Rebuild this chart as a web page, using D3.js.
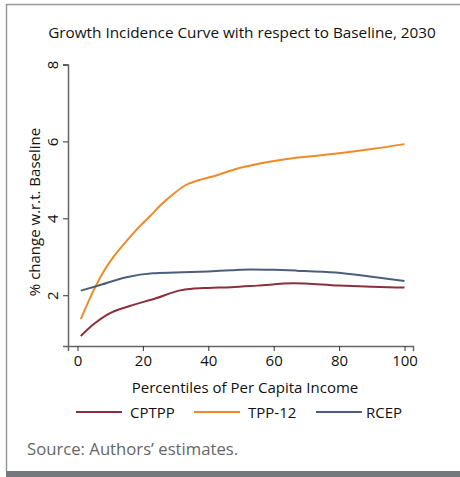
<!DOCTYPE html>
<html><head><meta charset="utf-8">
<script src="https://cdn.jsdelivr.net/npm/d3@7"></script>
<style>body{margin:0;background:#fff}svg{display:block}text{font-family:"Open Sans","Noto Sans",sans-serif}</style>
</head><body>
<script>
const title = "Growth Incidence Curve with respect to Baseline, 2030";
const xTitle = "Percentiles of Per Capita Income";
const yTitle = "% change w.r.t. Baseline";
const source = "Source: Authors’ estimates.";
const xTicks = [0,20,40,60,80,100];
const yTicks = [2,4,6,8];
const seriesNames = ["CPTPP","TPP-12","RCEP"];
const seriesColors = ["#8c2f3d","#ef8a26","#4b5f7d"];
const cptppX = [1,5,9,16,24,31,35,40,47,55,66,80,90,100];
const cptppY = [0.94,1.25,1.49,1.72,1.92,2.12,2.17,2.19,2.21,2.25,2.31,2.25,2.22,2.20];
const tppX = [1,5,8,11,14,18,22,26,30,33,37,41,48,55,63,70,78,90,100];
const tppY = [1.38,2.14,2.62,3.00,3.31,3.70,4.04,4.39,4.68,4.86,4.99,5.08,5.27,5.41,5.53,5.60,5.67,5.80,5.93];
const rcepX = [1,6,15,23,30,40,47,53,60,67,79,90,100];
const rcepY = [2.12,2.24,2.47,2.57,2.59,2.62,2.65,2.67,2.66,2.64,2.59,2.48,2.37];

const W=460,H=477;
const svg=d3.select("body").append("svg").attr("width",W).attr("height",H);
// frame
svg.append("line").attr("x1",6.5).attr("x2",W).attr("y1",4.5).attr("y2",4.5).attr("stroke","#999").attr("stroke-width",1.5);
svg.append("line").attr("x1",6.5).attr("x2",6.5).attr("y1",4).attr("y2",471).attr("stroke","#999").attr("stroke-width",1.5);
svg.append("rect").attr("x",6).attr("y",471).attr("width",W-6).attr("height",6).attr("fill","#77787b");

const x=d3.scaleLinear().domain([-2.9,102.6]).range([68,413]);
const y=d3.scaleLinear().domain([0.68,8]).range([346,64.5]);

svg.append("text").attr("x",242).attr("y",38).attr("text-anchor","middle").attr("font-size",15.3).attr("fill","#111").text(title);

// axes
const gx=svg.append("g").attr("transform","translate(0,346)").call(d3.axisBottom(x).tickValues(xTicks).tickSize(5).tickPadding(4));
gx.select(".domain").attr("stroke","#666").attr("stroke-width",1.5);
gx.selectAll(".tick line").attr("stroke","#333");
gx.selectAll(".tick text").attr("font-size",15).attr("fill","#111").attr("font-family","'Open Sans',sans-serif");
const gy=svg.append("g").attr("transform","translate(68,0)").call(d3.axisLeft(y).tickValues(yTicks).tickSize(5).tickPadding(4));
gy.select(".domain").attr("stroke","#666").attr("stroke-width",1.5);
gy.selectAll(".tick line").attr("stroke","#333");
gy.selectAll(".tick text").attr("font-size",15).attr("fill","#111").attr("text-anchor","middle").attr("x",0)
  .attr("transform","translate(-15,0) rotate(-90)").attr("dy","0.35em").attr("font-family","'Open Sans',sans-serif");

svg.append("text").attr("x",245).attr("y",393).attr("text-anchor","middle").attr("font-size",15).attr("fill","#111").text(xTitle);
svg.append("text").attr("transform","translate(40,212) rotate(-90)").attr("text-anchor","middle").attr("font-size",15).attr("fill","#111").text(yTitle);

const line=d3.line().x(d=>x(d[0])).y(d=>y(d[1])).curve(d3.curveMonotoneX);
const data=[d3.zip(cptppX,cptppY),d3.zip(tppX,tppY),d3.zip(rcepX,rcepY)];
data.forEach((d,i)=>{
  svg.append("path").datum(d).attr("d",line).attr("fill","none").attr("stroke",seriesColors[i]).attr("stroke-width",2);
});

// legend
const legX=[76,194,316];
seriesNames.forEach((n,i)=>{
  svg.append("line").attr("x1",legX[i]).attr("x2",legX[i]+46).attr("y1",412).attr("y2",412).attr("stroke",seriesColors[i]).attr("stroke-width",2);
  svg.append("text").attr("x",legX[i]+(i==2?50:54)).attr("y",417.5).attr("font-size",15).attr("fill","#111").text(n);
});

svg.append("text").attr("x",27).attr("y",455).attr("font-size",16.7).attr("fill","#666").text(source);
</script>
</body></html>
